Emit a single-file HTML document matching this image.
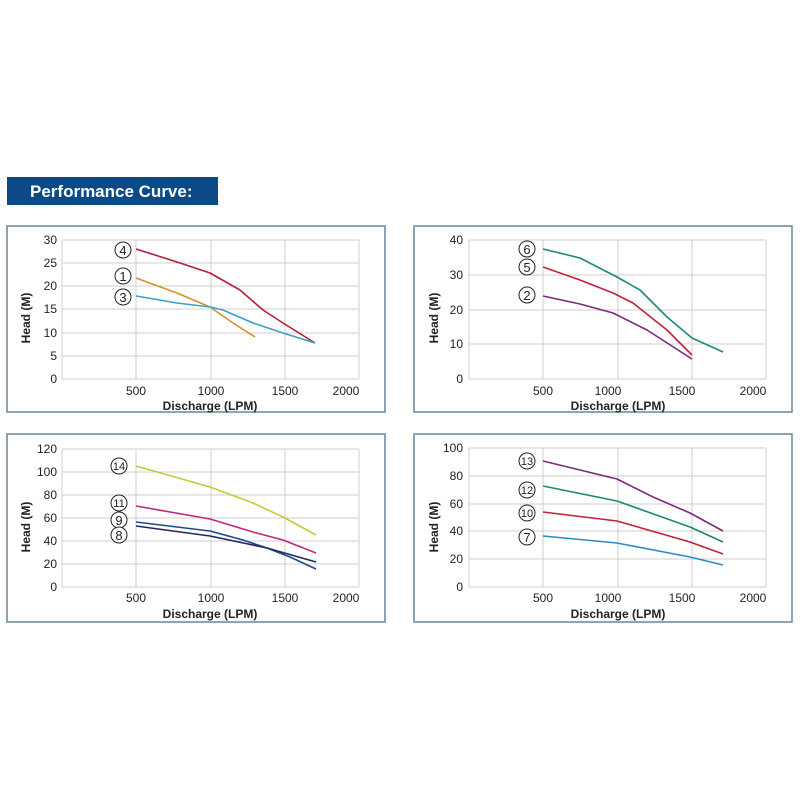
<!DOCTYPE html>
<html><head><meta charset="utf-8"><style>
body{margin:0;background:#fff;}
svg{display:block}
text{font-family:"Liberation Sans",sans-serif;fill:#222}
.t{font-size:12px}
.b{font-size:12px;font-weight:bold}
.g{stroke:#cfcfcf;stroke-width:1;fill:none}
.c{fill:none;stroke-width:1.6;stroke-linejoin:round}
.l circle{fill:#fff;stroke:#222;stroke-width:1}
.l text{font-size:13px;text-anchor:middle}
</style></head><body>
<svg width="800" height="800" viewBox="0 0 800 800">
<rect x="7" y="177" width="211" height="28" fill="#0b4a86"/>
<text x="30" y="197" style="font-size:17px;font-weight:bold;fill:#fff">Performance Curve:</text>

<!-- Panel 1 -->
<rect x="7" y="226" width="378" height="186" fill="#fff" stroke="#6a8599" stroke-width="1.5"/>
<g class="g"><path d="M62 240H359M62 263H359M62 286H359M62 309H359M62 333H359M62 356H359M62 379H359M62 240V379M136 240V379M211 240V379M285 240V379M359 240V379"/></g>
<g class="t" text-anchor="end"><text x="57" y="244">30</text><text x="57" y="267">25</text><text x="57" y="290">20</text><text x="57" y="313">15</text><text x="57" y="337">10</text><text x="57" y="360">5</text><text x="57" y="383">0</text></g>
<g class="t" text-anchor="middle"><text x="136" y="395">500</text><text x="211" y="395">1000</text><text x="285" y="395">1500</text><text x="346" y="395">2000</text></g>
<text class="b" x="210" y="410" text-anchor="middle">Discharge (LPM)</text>
<text class="b" transform="translate(30,318) rotate(-90)" text-anchor="middle">Head (M)</text>
<path class="c" stroke="#b0203a" d="M136 249L177 262L210 273L240 290L263 310L283 323L315 343"/>
<path class="c" stroke="#d8902a" d="M136 278L177 293L210 307L233 323L255 337"/>
<path class="c" stroke="#3aa0c8" d="M136 296L177 303L210 307L223 310L253 323L283 333L315 343"/>
<g class="l"><circle cx="123" cy="250" r="8"/><text x="123" y="255">4</text><circle cx="123" cy="276" r="8"/><text x="123" y="281">1</text><circle cx="123" cy="297" r="8"/><text x="123" y="302">3</text></g>

<!-- Panel 2 -->
<rect x="414" y="226" width="378" height="186" fill="#fff" stroke="#6a8599" stroke-width="1.5"/>
<g class="g"><path d="M469 240H766M469 275H766M469 310H766M469 344H766M469 379H766M469 240V379M543 240V379M618 240V379M692 240V379M766 240V379"/></g>
<g class="t" text-anchor="end"><text x="463" y="244">40</text><text x="463" y="279">30</text><text x="463" y="314">20</text><text x="463" y="348">10</text><text x="463" y="383">0</text></g>
<g class="t" text-anchor="middle"><text x="543" y="395">500</text><text x="608" y="395">1000</text><text x="682" y="395">1500</text><text x="753" y="395">2000</text></g>
<text class="b" x="618" y="410" text-anchor="middle">Discharge (LPM)</text>
<text class="b" transform="translate(438,318) rotate(-90)" text-anchor="middle">Head (M)</text>
<path class="c" stroke="#1a8a7a" d="M543 249L580 258L617 277L640 290L667 317L692 338L723 352"/>
<path class="c" stroke="#c0203a" d="M543 267L580 280L613 293L633 303L667 330L692 355"/>
<path class="c" stroke="#7a2a7a" d="M543 296L580 304L613 313L647 330L692 359"/>
<g class="l"><circle cx="527" cy="249" r="8"/><text x="527" y="254">6</text><circle cx="527" cy="267" r="8"/><text x="527" y="272">5</text><circle cx="527" cy="295" r="8"/><text x="527" y="300">2</text></g>

<!-- Panel 3 -->
<rect x="7" y="434" width="378" height="188" fill="#fff" stroke="#6a8599" stroke-width="1.5"/>
<g class="g"><path d="M62 449H359M62 472H359M62 495H359M62 518H359M62 541H359M62 564H359M62 587H359M62 449V587M136 449V587M211 449V587M285 449V587M359 449V587"/></g>
<g class="t" text-anchor="end"><text x="57" y="453">120</text><text x="57" y="476">100</text><text x="57" y="499">80</text><text x="57" y="522">60</text><text x="57" y="545">40</text><text x="57" y="568">20</text><text x="57" y="591">0</text></g>
<g class="t" text-anchor="middle"><text x="136" y="602">500</text><text x="211" y="602">1000</text><text x="285" y="602">1500</text><text x="346" y="602">2000</text></g>
<text class="b" x="210" y="618" text-anchor="middle">Discharge (LPM)</text>
<text class="b" transform="translate(30,527) rotate(-90)" text-anchor="middle">Head (M)</text>
<path class="c" stroke="#c8c838" d="M136 466L210 487L253 503L283 517L316 535"/>
<path class="c" stroke="#c0287a" d="M136 506L210 519L253 532L283 540L316 553"/>
<path class="c" stroke="#1f4a8a" d="M136 522L210 531L243 540L267 548L290 557L316 569"/>
<path class="c" stroke="#202a5a" d="M136 526L210 536L267 548L316 562"/>
<g class="l"><circle cx="119" cy="466" r="8"/><text x="119" y="470" style="font-size:11px">14</text><circle cx="119" cy="503" r="8"/><text x="119" y="507" style="font-size:11px">11</text><circle cx="119" cy="520" r="8"/><text x="119" y="525">9</text><circle cx="119" cy="535" r="8"/><text x="119" y="540">8</text></g>

<!-- Panel 4 -->
<rect x="414" y="434" width="378" height="188" fill="#fff" stroke="#6a8599" stroke-width="1.5"/>
<g class="g"><path d="M469 448H766M469 476H766M469 504H766M469 531H766M469 559H766M469 587H766M469 448V587M543 448V587M618 448V587M692 448V587M766 448V587"/></g>
<g class="t" text-anchor="end"><text x="463" y="452">100</text><text x="463" y="480">80</text><text x="463" y="508">60</text><text x="463" y="535">40</text><text x="463" y="563">20</text><text x="463" y="591">0</text></g>
<g class="t" text-anchor="middle"><text x="543" y="602">500</text><text x="608" y="602">1000</text><text x="682" y="602">1500</text><text x="753" y="602">2000</text></g>
<text class="b" x="618" y="618" text-anchor="middle">Discharge (LPM)</text>
<text class="b" transform="translate(438,527) rotate(-90)" text-anchor="middle">Head (M)</text>
<path class="c" stroke="#7a2a7a" d="M543 461L617 479L653 497L690 513L723 531"/>
<path class="c" stroke="#1a8a6a" d="M543 486L617 501L690 527L723 542"/>
<path class="c" stroke="#c0203a" d="M543 512L617 521L690 542L723 554"/>
<path class="c" stroke="#2a8ac8" d="M543 536L617 543L690 557L723 565"/>
<g class="l"><circle cx="527" cy="461" r="8"/><text x="527" y="465" style="font-size:11px">13</text><circle cx="527" cy="490" r="8"/><text x="527" y="494" style="font-size:11px">12</text><circle cx="527" cy="513" r="8"/><text x="527" y="517" style="font-size:11px">10</text><circle cx="527" cy="537" r="8"/><text x="527" y="542">7</text></g>
</svg>
</body></html>
